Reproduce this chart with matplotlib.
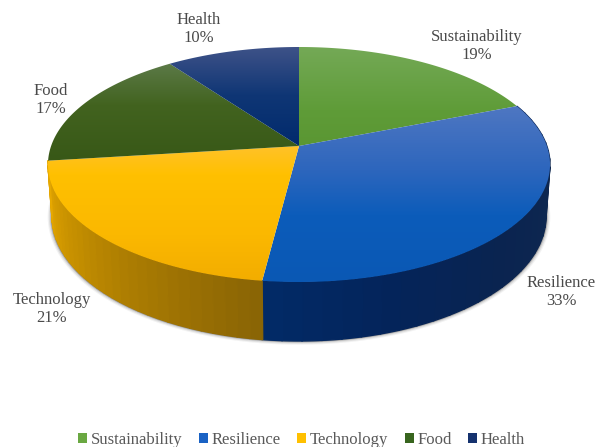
import numpy as np
import matplotlib
matplotlib.use("Agg")
import matplotlib.pyplot as plt
from matplotlib.patches import Patch, Polygon
from matplotlib.colors import to_rgb

categories = ["Sustainability", "Resilience", "Technology", "Food", "Health"]
values = [19, 33, 21, 17, 10]

legend_colors = ["#6aa842", "#1a62c4", "#ffc000", "#38651e", "#15326e"]
top_stops = {
    "Sustainability": [(47, "#74a956"), (110, "#5f9c38"), (150, "#5a9632")],
    "Resilience": [(105, "#4f77c2"), (170, "#2d66bd"), (215, "#0c5cba"), (285, "#0a58b4")],
    "Technology": [(145, "#ffc22a"), (175, "#ffc000"), (235, "#fbb800"), (285, "#f2ac00")],
    "Food": [(62, "#5c7a48"), (105, "#42631f"), (165, "#375716")],
    "Health": [(47, "#3e5288"), (95, "#0f3675"), (150, "#002a6c")],
}
wall_stops = {
    "Resilience": [(0.0, "#0c2a5e"), (0.25, "#0f2850"), (0.55, "#0a2450"), (0.8, "#04245a"), (1.0, "#022a66")],
    "Technology": [(0.0, "#8a6505"), (0.35, "#a87a02"), (0.7, "#c99200"), (1.0, "#e6a800")],
}
label_pos = [(476.5, 46), (561.5, 292), (52, 309), (51, 100), (199, 29)]

W, H = 596, 447
fig = plt.figure(figsize=(W / 100, H / 100), dpi=100)
ax = fig.add_axes([0, 0, 1, 1])
plt.rcParams["font.family"] = ["Liberation Serif", "DejaVu Serif"]


def project(theta, cx, cy, a, near, far):
    """Clockwise angle from the top (radians) to pixel position under perspective."""
    k = (near - far) / (near + far)
    b = far * (1 + k)
    u, v = np.sin(theta), np.cos(theta)
    w = 1 + k * v
    return cx + a * u / w, cy - b * v / w


def top(theta):
    return project(theta, 299, 146, 247.9, 136, 99)


def base(theta):
    return project(theta, 299, 196.3, 244, 144.7, 105.3)


shares = np.array(values, dtype=float)
edges = np.concatenate([[0], np.cumsum(shares)]) / shares.sum() * 2 * np.pi


def ramp(stops, t):
    pos = [s[0] for s in stops]
    cols = np.array([to_rgb(s[1]) for s in stops])
    return np.stack([np.interp(t, pos, cols[:, i]) for i in range(3)], axis=-1)


# soft shadow under the wall
vis = np.linspace(np.deg2rad(88), np.deg2rad(268), 300)
bx, by = base(vis)
for off, lw, al in [(1.0, 4.0, 0.06), (0.8, 2.8, 0.10), (0.5, 1.6, 0.22), (0.2, 0.9, 0.35)]:
    ax.plot(bx + off * 1.44 * np.sin(vis), by + off, color="#303030", lw=lw, alpha=al,
            solid_capstyle="round", zorder=1)

# side walls, drawn as narrow strips
for i, name in enumerate(categories):
    if name not in wall_stops:
        continue
    a0, a1 = edges[i], edges[i + 1]
    n = 30
    ang = np.linspace(a0, a1, n + 1)
    for j in range(n):
        s0, s1 = ang[j], ang[j + 1] + 0.004
        mid = j / (n - 1)
        col = ramp(wall_stops[name], np.array(mid))
        t = np.linspace(s0, s1, 6)
        x0, y0 = top(t)
        x1, y1 = base(t)
        pts = np.column_stack([np.r_[x0, x1[::-1]], np.r_[y0, y1[::-1]]])
        ax.add_patch(Polygon(pts, closed=True, facecolor=col, edgecolor=col, lw=0.9, zorder=2))

# top face: a vertical gradient clipped to each slice
ys = np.arange(0, H + 1)
for i, name in enumerate(categories):
    t = np.linspace(edges[i], edges[i + 1], 160)
    x, y = top(t)
    cx, cy = top(np.array(0.0))[0], 146
    pts = np.column_stack([np.r_[cx, x], np.r_[cy, y]])
    img = ramp(top_stops[name], ys)[:, None, :]
    im = ax.imshow(img, extent=(0, W, H, 0), aspect="auto", interpolation="bilinear", zorder=3)
    im.set_clip_path(Polygon(pts, closed=True, transform=ax.transData))

ax.set_xlim(0, W)
ax.set_ylim(H, 0)
ax.axis("off")

for name, val, (lx, ly) in zip(categories, values, label_pos):
    ax.text(lx, ly, f"{name}\n{val}%", ha="center", va="center", fontsize=12,
            color="#4a4a4a", linespacing=1.17, zorder=5)

handles = [Patch(facecolor=c, edgecolor="none", label=n) for c, n in zip(legend_colors, categories)]
ax.legend(handles=handles, loc="center", bbox_to_anchor=(301.5 / W, 1 - 440 / H), ncol=5, frameon=False,
          fontsize=12, labelcolor="#595959", handlelength=0.55, handleheight=0.55, handletextpad=0.2,
          columnspacing=1.0, borderpad=0, borderaxespad=0)

fig.savefig("out.png", dpi=100, facecolor="white")
